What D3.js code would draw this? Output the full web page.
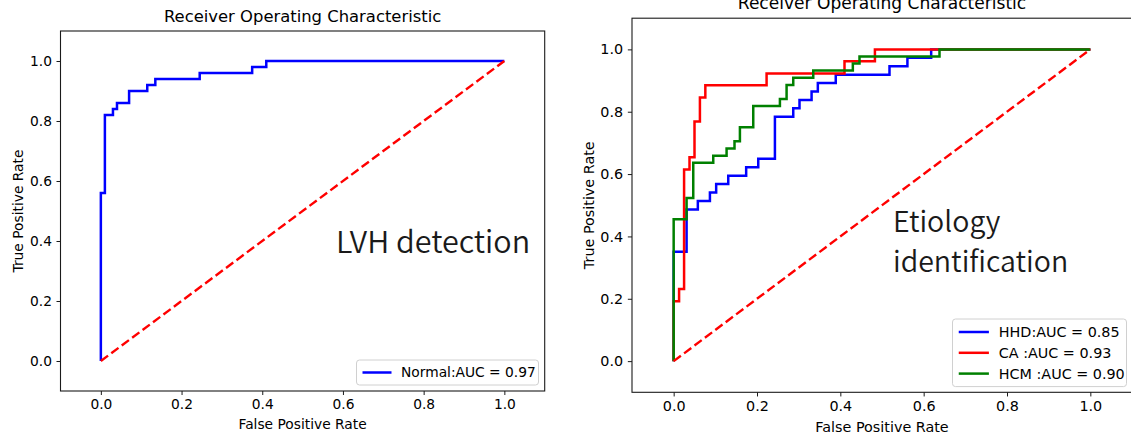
<!DOCTYPE html>
<html>
<head>
<meta charset="utf-8">
<script src="https://cdn.jsdelivr.net/npm/d3@7"></script>
<style>
  body { margin: 0; background: #fff; }
  svg { display: block; }
  text { font-family: "DejaVu Sans", sans-serif; fill: #000; }
  .big { font-family: "Noto Sans CJK SC", "Noto Sans", sans-serif; font-weight: 350; fill: #1a1a1a; }
</style>
</head>
<body>
<div id="chart"></div>
<script>
// ROC points (fpr, tpr), step corners
const normalFpr = [0, 0, 0.01, 0.03, 0.04, 0.07, 0.115, 0.135, 0.245, 0.375, 0.41, 1];
const normalTpr = [0, 0.56, 0.82, 0.84, 0.86, 0.90, 0.92, 0.94, 0.96, 0.98, 1, 1];

const hhdFpr = [0, 0, 0.031, 0.058, 0.087, 0.102, 0.131, 0.174, 0.203, 0.243, 0.287, 0.302, 0.331, 0.346, 0.389, 0.518, 0.561, 0.618, 1];
const hhdTpr = [0, 0.351, 0.486, 0.514, 0.541, 0.568, 0.595, 0.622, 0.649, 0.784, 0.811, 0.838, 0.865, 0.892, 0.919, 0.946, 0.973, 1, 1];

const caFpr = [0, 0, 0.013, 0.025, 0.038, 0.05, 0.063, 0.076, 0.223, 0.41, 0.483, 1];
const caTpr = [0, 0.192, 0.231, 0.615, 0.654, 0.769, 0.846, 0.885, 0.923, 0.962, 1, 1];

const hcmFpr = [0, 0, 0.031, 0.047, 0.095, 0.127, 0.146, 0.159, 0.191, 0.255, 0.271, 0.287, 0.335, 0.43, 0.446, 0.638, 1];
const hcmTpr = [0, 0.455, 0.523, 0.636, 0.659, 0.682, 0.705, 0.75, 0.818, 0.841, 0.886, 0.909, 0.932, 0.955, 0.977, 1, 1];

const chanceLine = [0, 1];
const tickValues = [0, 0.2, 0.4, 0.6, 0.8, 1.0];

const leftLabels = ['Normal:AUC = 0.97'];
const rightLabels = ['HHD:AUC = 0.85', 'CA :AUC = 0.93', 'HCM :AUC = 0.90'];

const width = 1131;
const height = 435;

const svg = d3.select('#chart').append('svg')
    .attr('width', width)
    .attr('height', height);

const drawPanel = (opt) => {
    const x = d3.scaleLinear().domain([-0.1, 1.1]).range([opt.x0, opt.x1]);
    const y = d3.scaleLinear().domain([-0.1, 1.1]).range([opt.y1, opt.y0]);
    const s = opt.scale;
    const g = svg.append('g');

    g.append('clipPath').attr('id', opt.id + '-clip')
        .append('rect')
        .attr('x', opt.x0).attr('y', opt.y0)
        .attr('width', opt.x1 - opt.x0).attr('height', opt.y1 - opt.y0);

    const line = d3.line()
        .x(d => x(d[0]))
        .y(d => y(d[1]))
        .curve(d3.curveStepAfter);

    const plot = g.append('g').attr('clip-path', `url(#${opt.id}-clip)`);

    opt.series.forEach(sr => {
        plot.append('path')
            .datum(d3.zip(sr.fpr, sr.tpr))
            .attr('fill', 'none')
            .attr('stroke', sr.color)
            .attr('stroke-width', 2.5)
            .attr('d', line);
    });

    plot.append('path')
        .datum(d3.zip(chanceLine, chanceLine))
        .attr('fill', 'none')
        .attr('stroke', '#ff0000')
        .attr('stroke-width', 2.4)
        .attr('stroke-dasharray', '9,4')
        .attr('d', d3.line().x(d => x(d[0])).y(d => y(d[1])));

    // frame
    g.append('rect')
        .attr('x', opt.x0).attr('y', opt.y0)
        .attr('width', opt.x1 - opt.x0).attr('height', opt.y1 - opt.y0)
        .attr('fill', 'none')
        .attr('stroke', '#1a1a1a')
        .attr('stroke-width', 1.1);

    const fs = 13.8 * s;
    const xAxis = g.append('g')
        .attr('transform', `translate(0,${opt.y1})`)
        .call(d3.axisBottom(x).tickValues(tickValues).tickFormat(d3.format('.1f'))
            .tickSize(4 * s).tickSizeOuter(0).tickPadding(4 * s));
    const yAxis = g.append('g')
        .attr('transform', `translate(${opt.x0},0)`)
        .call(d3.axisLeft(y).tickValues(tickValues).tickFormat(d3.format('.1f'))
            .tickSize(4 * s).tickSizeOuter(0).tickPadding(4.5 * s));
    [xAxis, yAxis].forEach(a => {
        a.select('.domain').remove();
        a.selectAll('text').style('font-size', fs + 'px').attr('font-family', null);
        a.selectAll('line').attr('stroke', '#1a1a1a');
    });

    const cx = (opt.x0 + opt.x1) / 2;
    g.append('text')
        .attr('x', cx).attr('y', opt.y1 + 38 * s)
        .attr('text-anchor', 'middle')
        .style('font-size', fs + 'px')
        .text('False Positive Rate');

    g.append('text')
        .attr('transform', `translate(${opt.ylabelX},${(opt.y0 + opt.y1) / 2}) rotate(-90)`)
        .attr('text-anchor', 'middle')
        .style('font-size', fs + 'px')
        .text('True Positive Rate');

    g.append('text')
        .attr('x', cx).attr('y', opt.y0 - 9 * s)
        .attr('text-anchor', 'middle')
        .style('font-size', 16.4 * s + 'px')
        .text('Receiver Operating Characteristic');

    // big annotation
    const ann = g.append('text')
        .attr('class', 'big')
        .style('font-size', opt.bigSize + 'px');
    opt.bigLines.forEach((t, i) => {
        ann.append('tspan')
            .attr('x', opt.bigX)
            .attr('y', opt.bigY + i * opt.bigLead)
            .text(t);
    });

    // legend
    const rowH = 20 * s;
    const lg = g.append('g');
    lg.append('rect')
        .attr('x', opt.legX).attr('y', opt.legY)
        .attr('width', opt.legW).attr('height', opt.series.length * rowH + 5 * s)
        .attr('rx', 3).attr('ry', 3)
        .attr('fill', '#fff').attr('fill-opacity', 0.85)
        .attr('stroke', '#d0d0d0').attr('stroke-width', 1);
    opt.series.forEach((sr, i) => {
        const ry = opt.legY + 12.5 * s + i * rowH;
        lg.append('line')
            .attr('x1', opt.legX + 6 * s).attr('x2', opt.legX + 35 * s)
            .attr('y1', ry).attr('y2', ry)
            .attr('stroke', sr.color).attr('stroke-width', 2.5);
        lg.append('text')
            .attr('x', opt.legX + 44.5 * s).attr('y', ry)
            .attr('dy', '0.35em')
            .style('font-size', fs + 'px')
            .text(sr.label);
    });
};

drawPanel({
    id: 'left', x0: 60.5, x1: 544.7, y0: 31, y1: 391, scale: 1,
    ylabelX: 23,
    series: [{ fpr: normalFpr, tpr: normalTpr, color: '#0000ff', label: leftLabels[0] }],
    bigLines: ['LVH detection'], bigX: 336, bigY: 253, bigSize: 30.5, bigLead: 0,
    legX: 356.5, legY: 360, legW: 182
});

drawPanel({
    id: 'right', x0: 632, x1: 1132, y0: 18.2, y1: 392.3, scale: 1.04,
    ylabelX: 594,
    series: [
        { fpr: hhdFpr, tpr: hhdTpr, color: '#0000ff', label: rightLabels[0] },
        { fpr: caFpr, tpr: caTpr, color: '#ff0000', label: rightLabels[1] },
        { fpr: hcmFpr, tpr: hcmTpr, color: '#008000', label: rightLabels[2] }
    ],
    bigLines: ['Etiology', 'identification'], bigX: 893, bigY: 232, bigSize: 28.5, bigLead: 40,
    legX: 952.5, legY: 319, legW: 174
});
</script>
</body>
</html>
